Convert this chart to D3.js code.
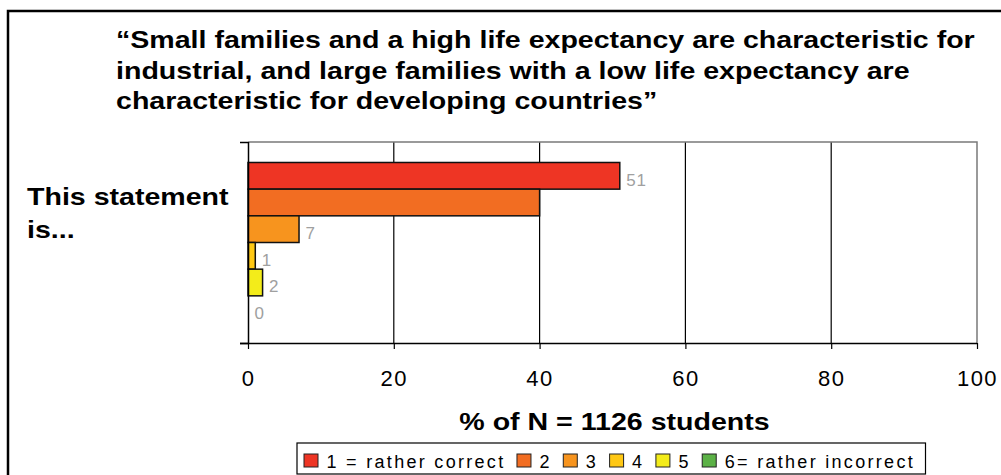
<!DOCTYPE html>
<html><head><meta charset="utf-8">
<script src="https://cdn.jsdelivr.net/npm/d3@7"></script>
<style>
html,body{margin:0;padding:0;background:#fff;}
svg{display:block;}
text{font-family:"Liberation Sans",Arial,sans-serif;}
</style></head>
<body>
<svg id="chart" width="1001" height="475"></svg>
<script>
// ---- data ----
const titleLines = ["\u201cSmall families and a high life expectancy are characteristic for",
  "industrial, and large families with a low life expectancy are",
  "characteristic for developing countries\u201d"];
const yLabelLines = ["This statement", "is..."];
const category = ["statement"];
const seriesNames = ["1 = rather correct", "2", "3", "4", "5", "6= rather incorrect"];
const seriesValues = [51, 40, 7, 1, 2, 0];
const showValueLabel = [true, false, true, true, true, true];
const seriesColors = ["#EE3524", "#F26D22", "#F7941E", "#FFC814", "#F3EC1A", "#5BB146"];
const xTicks = [0, 20, 40, 60, 80, 100];
const xTitle = "% of N = 1126 students";

// ---- layout ----
const svg = d3.select("#chart");
const plot = {left: 248, right: 977, top: 142, bottom: 343};
const K = 1.19; // horizontal stretch of bold texts

function stretch(sel, k) {
  sel.each(function () {
    const L = this.getComputedTextLength();
    d3.select(this).attr("textLength", L * k).attr("lengthAdjust", "spacingAndGlyphs");
  });
}

// outer frame (extends beyond right/bottom edges)
svg.append("rect").attr("x", 8).attr("y", 11).attr("width", 1010).attr("height", 480)
  .attr("fill", "none").attr("stroke", "#000").attr("stroke-width", 2.5);

// title
const title = svg.append("g");
titleLines.forEach((t, i) => {
  title.append("text").attr("x", 116).attr("y", 48 + i * 30.5)
    .attr("font-size", 24).attr("font-weight", "bold").attr("fill", "#000").text(t);
});
stretch(title.selectAll("text"), K);

// y label
const yl = svg.append("g");
yLabelLines.forEach((t, i) => {
  yl.append("text").attr("x", 27).attr("y", 205 + i * 32.5)
    .attr("font-size", 24).attr("font-weight", "bold").attr("fill", "#000").text(t);
});
stretch(yl.selectAll("text"), K);

// scales
const x = d3.scaleLinear().domain([0, 100]).range([plot.left, plot.right]);
const y0 = d3.scaleBand().domain(category).range([plot.top, plot.bottom]).paddingOuter(0.128).paddingInner(0);
const y1 = d3.scaleBand().domain(d3.range(seriesValues.length)).range([0, y0.bandwidth()]);

// gridlines
svg.append("g").selectAll("line").data(xTicks.filter(d => d > 0 && d < 100)).join("line")
  .attr("x1", d => x(d)).attr("x2", d => x(d)).attr("y1", plot.top).attr("y2", plot.bottom)
  .attr("stroke", "#000").attr("stroke-width", 1.2);

// plot border (top + right)
svg.append("path")
  .attr("d", `M${x(0)},${plot.top}H${x(100)}V${plot.bottom}`)
  .attr("fill", "none").attr("stroke", "#7a7a7a").attr("stroke-width", 1.5);

// bars
const bars = svg.append("g").attr("transform", `translate(0,${y0(category[0])})`);
bars.selectAll("rect").data(seriesValues.map((v, i) => ({v, i}))).join("rect")
  .attr("x", x(0))
  .attr("y", d => y1(d.i))
  .attr("width", d => x(d.v) - x(0))
  .attr("height", y1.bandwidth())
  .attr("fill", d => seriesColors[d.i])
  .attr("stroke", "#111").attr("stroke-width", d => d.v > 0 ? 1.5 : 0);

// value labels
bars.selectAll("text").data(seriesValues.map((v, i) => ({v, i})).filter(d => showValueLabel[d.i])).join("text")
  .attr("x", d => x(d.v) + 6.5)
  .attr("y", d => y1(d.i) + y1.bandwidth() / 2 + 10)
  .attr("font-size", 17).attr("letter-spacing", 0.8).attr("fill", "#a0a0a0")
  .text(d => d.v);

// x axis
const xAxis = d3.axisBottom(x).tickValues(xTicks).tickSize(6).tickPadding(24).tickFormat(d3.format("d"));
const gx = svg.append("g").attr("transform", `translate(0,${plot.bottom})`).call(xAxis);
gx.select(".domain").attr("d", `M${x(0) - 8},0.5H${x(100)}`).attr("stroke", "#000").attr("stroke-width", 1.5);
gx.selectAll(".tick line").attr("stroke", "#000").attr("stroke-width", 1.2);
gx.selectAll(".tick text").attr("font-size", 22).attr("letter-spacing", 1.5)
  .attr("font-family", "'Liberation Sans',Arial,sans-serif").attr("fill", "#000").attr("dy", null).attr("y", 43);

// y axis
const yAxis = d3.axisLeft(d3.scaleLinear().domain([0, 1]).range([plot.bottom, plot.top]))
  .tickValues([0, 1]).tickSize(8).tickFormat("");
const gy = svg.append("g").attr("transform", `translate(${plot.left},0)`).call(yAxis);
gy.select(".domain").attr("d", `M0.5,${plot.top}V${plot.bottom}`).attr("stroke", "#000").attr("stroke-width", 1.5);
gy.selectAll(".tick line").attr("stroke", "#000").attr("stroke-width", 1.5);

// x title
const xt = svg.append("text").attr("x", (plot.left + plot.right) / 2 + 2).attr("y", 430)
  .attr("text-anchor", "middle").attr("font-size", 24).attr("font-weight", "bold").text(xTitle);
stretch(xt, K);

// legend
const leg = svg.append("g");
let cx = 304;
seriesNames.forEach((name, i) => {
  leg.append("rect").attr("x", cx).attr("y", 454).attr("width", 14).attr("height", 13)
    .attr("fill", seriesColors[i]).attr("stroke", "#222").attr("stroke-width", 1);
  const t = leg.append("text").attr("x", cx + 22.5).attr("y", 468)
    .attr("font-size", 18).attr("letter-spacing", 2.3).attr("fill", "#000").text(name);
  cx = cx + 22.5 + t.node().getComputedTextLength() + 11.5;
});
leg.insert("rect", ":first-child").attr("x", 297).attr("y", 443).attr("width", cx - 297 - 1).attr("height", 31)
  .attr("fill", "#fff").attr("stroke", "#000").attr("stroke-width", 1.2);
</script>
</body></html>
